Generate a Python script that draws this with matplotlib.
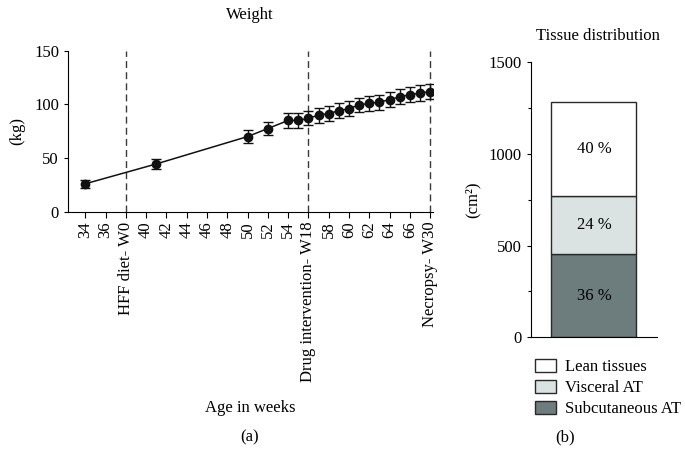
import matplotlib
matplotlib.use("Agg")
import matplotlib.pyplot as plt
from matplotlib.patches import Patch

plt.rcParams['font.family'] = ['Liberation Serif', 'DejaVu Serif']
plt.rcParams['font.size'] = 12

# weight over time
weeks = [34, 41, 50, 52, 54, 55, 56, 57, 58, 59, 60, 61, 62, 63, 64, 65, 66, 67, 68]
weight = [26, 44.5, 70, 77.5, 85, 85, 87, 90, 91.5, 94, 96, 99.5, 101, 102, 104.5, 107, 109, 110.5, 112]
weight_err = [4, 5, 6, 6, 7, 7, 6.5, 7, 7, 7, 6.7, 6.7, 6.8, 6.8, 6.8, 7, 7, 7.3, 7]

tick_weeks = list(range(34, 69, 2))
event_weeks = [38, 56, 68]
event_labels = ['HFF diet- W0', 'Drug intervention- W18', 'Necropsy- W30']

# tissue distribution (cm2), bottom to top
tissues = ['Subcutaneous AT', 'Visceral AT', 'Lean tissues']
tissue_area = [455, 314, 513]
tissue_pct = ['36 %', '24 %', '40 %']
tissue_colors = ['#6d7c7c', '#dbe2e2', '#ffffff']

fig = plt.figure(figsize=(6.85, 4.72), dpi=100)

# ---- panel (a)
ax = fig.add_axes([0.0993, 0.5515, 0.533, 0.341])
ax.errorbar(weeks, weight, yerr=weight_err, fmt='o-', color='#111111', ms=6,
            lw=1.1, elinewidth=1, capsize=3.5, capthick=1, zorder=3)
for w in event_weeks:
    ax.axvline(w, color='#3a3a3a', ls=(0, (5, 3)), lw=1, zorder=1)
ax.set_xlim(32.3, 68.3)
ax.set_ylim(0, 150)
ax.set_yticks([0, 50, 100, 150])
ax.set_xticks(tick_weeks)
labels = []
for w in tick_weeks:
    if w in event_weeks:
        labels.append(event_labels[event_weeks.index(w)])
    else:
        labels.append(str(w))
ax.set_xticklabels(labels, rotation=90, va='top')
ax.tick_params(axis='x', direction='out', length=4, width=0.8, pad=3)
ax.tick_params(axis='y', direction='out', length=3, width=0.8)
ax.spines['top'].set_visible(False)
ax.spines['right'].set_visible(False)
ax.set_ylabel('(kg)', labelpad=6)

fig.text(0.365, 0.968, 'Weight', ha='center', va='center')
fig.text(0.365, 0.1356, 'Age in weeks', ha='center', va='center')
fig.text(0.365, 0.074, '(a)', ha='center', va='center')

# ---- panel (b)
bx = fig.add_axes([0.775, 0.2854, 0.184, 0.583])
bottom = 0
for name, val, pct, col in zip(tissues, tissue_area, tissue_pct, tissue_colors):
    bx.bar(0.5, val, width=0.675, bottom=bottom, color=col, edgecolor='#2a2a2a',
           lw=1, label=name)
    bx.text(0.5, bottom + val / 2, pct, ha='center', va='center')
    bottom += val
bx.set_xlim(0, 1)
bx.set_ylim(0, 1500)
bx.set_yticks([0, 500, 1000, 1500])
bx.set_yticks([250, 750, 1250], minor=True)
bx.set_xticks([])
bx.tick_params(axis='y', which='major', direction='out', length=3, width=0.8)
bx.tick_params(axis='y', which='minor', direction='out', length=2, width=0.8)
bx.spines['top'].set_visible(False)
bx.spines['right'].set_visible(False)
bx.set_ylabel('(cm²)', labelpad=6)

handles = [Patch(facecolor=c, edgecolor='#2a2a2a', label=n)
           for n, c in zip(tissues, tissue_colors)][::-1]
fig.legend(handles=handles, loc='upper left', bbox_to_anchor=(0.772, 0.254),
           frameon=False, handlelength=1.25, handleheight=0.8,
           handletextpad=0.55, labelspacing=0.3, borderaxespad=0)

fig.text(0.873, 0.924, 'Tissue distribution', ha='center', va='center')
fig.text(0.825, 0.074, '(b)', ha='center', va='center')

fig.savefig('out.png', dpi=100)
